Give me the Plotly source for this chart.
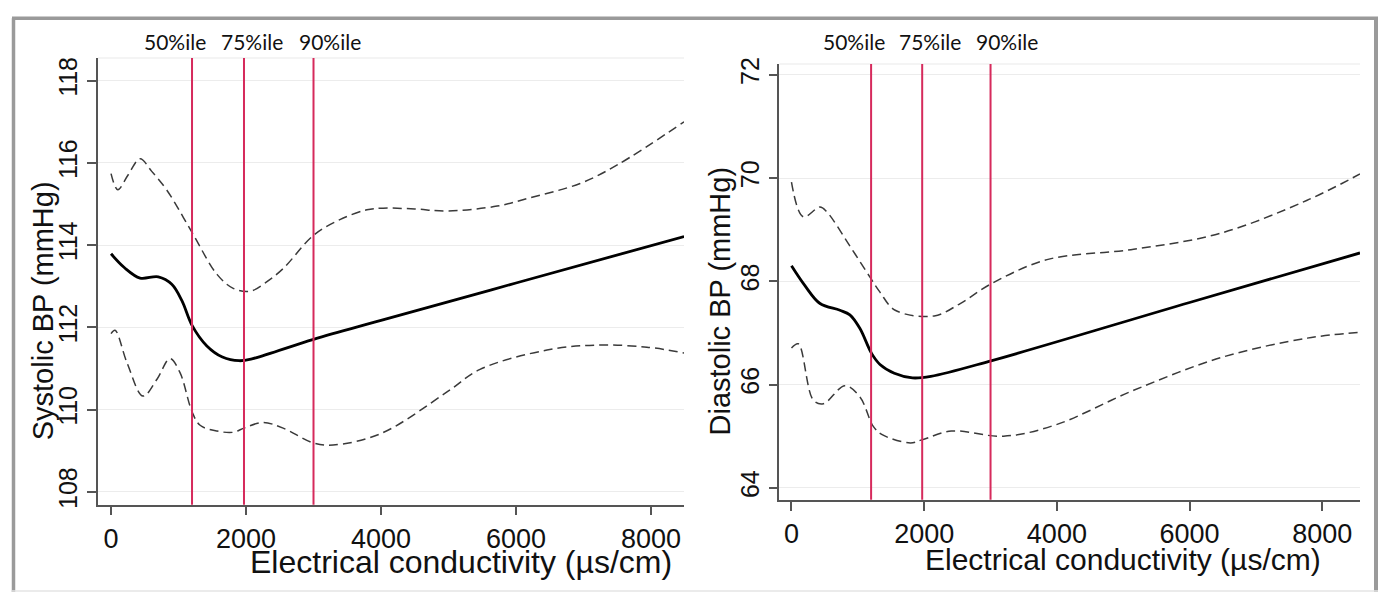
import plotly.graph_objects as go

# ---------------- data ----------------
# Systolic BP panel
ec_sbp = [0, 200, 430, 700, 900, 1050, 1200, 1420, 1650, 1900, 2100, 3000, 4000, 6000, 8490]
sbp = [113.79, 113.45, 113.2, 113.23, 113.05, 112.65, 112.05, 111.55, 111.28, 111.19, 111.24, 111.71, 112.17, 113.08, 114.21]

ec_sbp_hi = [0, 100, 250, 430, 600, 830, 1200, 1570, 1810, 2060, 2300, 2550, 3000, 3390, 3790, 4030, 4500, 4980, 5720, 6200, 6950, 7500, 8490]
sbp_hi = [115.74, 115.35, 115.7, 116.1, 115.8, 115.33, 114.31, 113.29, 112.95, 112.88, 113.1, 113.43, 114.24, 114.62, 114.86, 114.9, 114.88, 114.83, 114.95, 115.15, 115.5, 115.95, 117.0]

ec_sbp_lo = [0, 60, 237, 474, 681, 874, 1022, 1200, 1320, 1570, 1810, 1970, 2250, 2550, 3000, 3290, 4000, 4978, 5467, 6459, 7200, 7940, 8490]
sbp_lo = [111.85, 111.93, 111.14, 110.33, 110.74, 111.24, 110.9, 109.95, 109.62, 109.48, 109.45, 109.55, 109.69, 109.55, 109.19, 109.14, 109.42, 110.43, 110.98, 111.45, 111.57, 111.52, 111.38]

# Diastolic BP panel
ec_dbp = [0, 200, 430, 730, 880, 1030, 1209, 1334, 1550, 1824, 2100, 3007, 6000, 8568]
dbp = [68.30, 67.92, 67.57, 67.44, 67.35, 67.09, 66.60, 66.39, 66.22, 66.13, 66.16, 66.46, 67.59, 68.55]

ec_dbp_hi = [0, 178, 430, 530, 882, 1183, 1334, 1563, 2151, 2543, 3007, 3851, 5157, 6464, 7772, 8568]
dbp_hi = [69.92, 69.25, 69.44, 69.35, 68.68, 68.08, 67.79, 67.44, 67.33, 67.57, 67.95, 68.42, 68.62, 68.93, 69.57, 70.08]

ec_dbp_lo = [0, 103, 329, 480, 806, 1032, 1233, 1367, 1791, 1967, 2411, 3196, 3981, 5157, 6464, 7772, 8568]
dbp_lo = [66.71, 66.79, 65.70, 65.63, 65.98, 65.76, 65.19, 65.03, 64.87, 64.93, 65.10, 65.00, 65.22, 65.89, 66.52, 66.90, 67.01]

percentiles = [1200, 1970, 3000]
percentile_labels = ["50%ile", "75%ile", "90%ile"]

x_ticks = [0, 2000, 4000, 6000, 8000]
sbp_ticks = [108, 110, 112, 114, 116, 118]
dbp_ticks = [64, 66, 68, 70, 72]

x_title = "Electrical conductivity (µs/cm)"
sbp_title = "Systolic BP (mmHg)"
dbp_title = "Diastolic BP (mmHg)"

# ---------------- styling ----------------
W, H = 1380, 597
FONT = "Liberation Sans, Arial, sans-serif"
RED = "#d62a5c"
AX = "#555555"
GRID = "#ececec"
label_shift = [-17, 8, 16]


def fx(p):
    return p / W


def fy(p):
    return 1 - p / H


fig = go.Figure()

solid = dict(color="black", width=2.8, shape="spline", smoothing=1.0)
dashed = dict(color="#3a3a3a", width=1.5, dash="9px,5px", shape="spline", smoothing=1.0)

for xs, ys, ln, ax in [
    (ec_sbp_hi, sbp_hi, dashed, ("x", "y")),
    (ec_sbp_lo, sbp_lo, dashed, ("x", "y")),
    (ec_sbp, sbp, solid, ("x", "y")),
    (ec_dbp_hi, dbp_hi, dashed, ("x2", "y2")),
    (ec_dbp_lo, dbp_lo, dashed, ("x2", "y2")),
    (ec_dbp, dbp, solid, ("x2", "y2")),
]:
    fig.add_trace(go.Scatter(x=xs, y=ys, mode="lines", line=ln,
                             xaxis=ax[0], yaxis=ax[1], showlegend=False,
                             hoverinfo="skip"))

shapes = []
annotations = []
for xa, ya in [("x", "y"), ("x2", "y2")]:
    # faint top edge of plot region
    shapes.append(dict(type="line", xref=f"{xa} domain", yref=f"{ya} domain",
                       x0=0, x1=1, y0=1, y1=1, line=dict(color="#f0f0f0", width=1.5)))
    for i, p in enumerate(percentiles):
        shapes.append(dict(type="line", xref=xa, yref=f"{ya} domain",
                           x0=p, x1=p, y0=0, y1=1, line=dict(color=RED, width=2),
                           layer="above"))
        annotations.append(dict(x=p, xref=xa, y=fy(35.5), yref="paper",
                                text=percentile_labels[i], showarrow=False,
                                xshift=label_shift[i], xanchor="center", yanchor="middle",
                                font=dict(family="Lato, Open Sans, sans-serif", size=21, color="#111")))

# axis titles
annotations += [
    dict(x=fx(461), y=fy(565), xref="paper", yref="paper", text=x_title, showarrow=False,
         font=dict(family=FONT, size=32, color="#111"), xanchor="center", yanchor="middle"),
    dict(x=fx(1123), y=fy(563), xref="paper", yref="paper", text=x_title, showarrow=False,
         font=dict(family=FONT, size=30, color="#111"), xanchor="center", yanchor="middle"),
    dict(x=fx(43), y=fy(310), xref="paper", yref="paper", text=sbp_title, showarrow=False,
         textangle=-90, font=dict(family=FONT, size=29, color="#111"), xanchor="center", yanchor="middle"),
    dict(x=fx(720), y=fy(300), xref="paper", yref="paper", text=dbp_title, showarrow=False,
         textangle=-90, font=dict(family=FONT, size=29, color="#111"), xanchor="center", yanchor="middle"),
]

# outer frame
shapes += [
    dict(type="line", xref="paper", yref="paper", x0=fx(13.5), x1=fx(13.5), y0=fy(596), y1=fy(11.5),
         line=dict(color="#9a9a9a", width=3.5)),
    dict(type="line", xref="paper", yref="paper", x0=fx(12), x1=fx(1378), y0=fy(11.5), y1=fy(11.5),
         line=dict(color="#9a9a9a", width=3.5)),
    dict(type="line", xref="paper", yref="paper", x0=fx(1376), x1=fx(1376), y0=fy(596), y1=fy(11.5),
         line=dict(color="#9a9a9a", width=4)),
    dict(type="line", xref="paper", yref="paper", x0=fx(12), x1=fx(1378), y0=fy(595), y1=fy(595),
         line=dict(color="#e4e4e4", width=1.5)),
]

xcommon = dict(tickvals=x_ticks, ticks="outside", ticklen=9, tickwidth=1.5, tickcolor=AX,
               showline=True, linecolor=AX, linewidth=1.5, showgrid=False, zeroline=False,
               tickfont=dict(family=FONT, size=27, color="#111"), ticklabelstandoff=0)
ycommon = dict(ticks="outside", ticklen=9, tickwidth=1.5, tickcolor=AX, tickangle=-90,
               showline=True, linecolor=AX, linewidth=1.5, showgrid=True, gridcolor=GRID,
               gridwidth=1.2, zeroline=False,
               tickfont=dict(family=FONT, size=25, color="#111"), ticklabelstandoff=0)

fig.update_layout(
    width=W, height=H,
    margin=dict(l=0, r=0, t=0, b=0),
    paper_bgcolor="white", plot_bgcolor="white",
    xaxis=dict(domain=[fx(98), fx(684)], range=[-193, 8489], anchor="y", **xcommon),
    yaxis=dict(domain=[fy(507), fy(52)], range=[107.69, 118.55], tickvals=sbp_ticks, anchor="x", **ycommon),
    xaxis2=dict(domain=[fx(779.4), fx(1360)], range=[-182, 8568], anchor="y2", **xcommon),
    yaxis2=dict(domain=[fy(502), fy(58)], range=[63.77, 72.21], tickvals=dbp_ticks, anchor="x2", **ycommon),
    shapes=shapes,
    annotations=annotations,
    showlegend=False,
)

# remove the default page margin so the figure sits exactly in the window
fig.write_html("out.html", config={"displayModeBar": False},
               post_script="document.body.style.margin='0';document.documentElement.style.overflow='hidden';")
